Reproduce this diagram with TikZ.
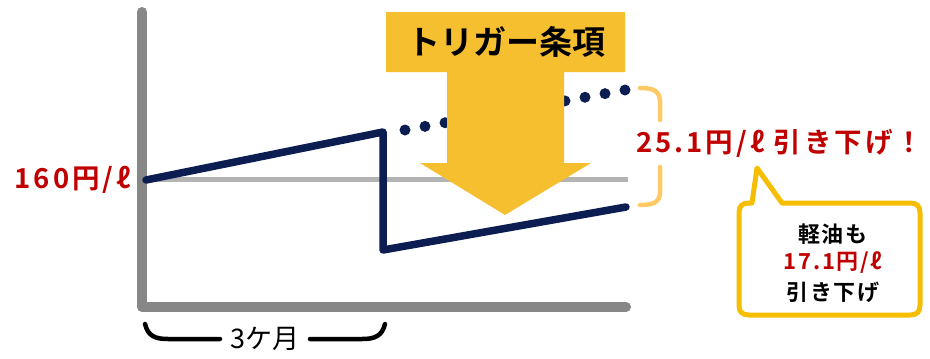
\documentclass[tikz,border=0pt]{standalone}
\usepackage{fontspec}
\usetikzlibrary{calc}
\setmainfont{Noto Sans CJK JP}[BoldFont=* Bold]
\newfontfamily\spacedjp{Noto Sans CJK JP}[BoldFont=* Bold,LetterSpace=11]
\newfontfamily\slightjp{Noto Sans CJK JP}[BoldFont=* Bold,LetterSpace=8]
\definecolor{navy}{HTML}{0B1D51}
\definecolor{axisgray}{HTML}{878787}
\definecolor{basegray}{HTML}{B3B3B3}
\definecolor{gold}{HTML}{F6BF30}
\definecolor{calloutgold}{HTML}{F5BE00}
\definecolor{lightorange}{HTML}{FFC966}
\definecolor{redtxt}{HTML}{C00000}
\tikzset{
  axisline/.style={draw=axisgray,line width=10pt,line cap=round,line join=round},
  baseline/.style={draw=basegray,line width=5pt},
  priceline/.style={draw=navy,line width=7.5pt,line cap=round,line join=round},
  pricedot/.style={fill=navy,draw=none},
  bigarrow/.style={fill=gold,draw=none},
  bracketline/.style={draw=lightorange,line width=4.5pt,line cap=round},
  braceline/.style={draw=black,line width=4.5pt,line cap=round},
  redlabel/.style={text=redtxt,font=\spacedjp\bfseries\fontsize{27.5}{30}\selectfont,inner sep=0pt},
  callout/.style={draw=calloutgold,fill=white,line width=5pt,line join=round},
  callouttext/.style={font=\slightjp\bfseries\fontsize{22}{30}\selectfont,align=center,inner sep=0pt},
}
\begin{document}
\begin{tikzpicture}[x=1pt,y=-1pt]
\useasboundingbox (0,0) rectangle (930,359);
% coordinates
\coordinate (axtop) at (142,12);
\coordinate (axcorner) at (142,307);
\coordinate (axright) at (626,307);
\coordinate (b0) at (142,179);
\coordinate (b1) at (628,179);
\coordinate (p0) at (146,180);
\coordinate (p1) at (383,132);
\coordinate (p2) at (383,250);
\coordinate (p3) at (626,207);
\coordinate (d0) at (405,130);
\coordinate (d1) at (625,90);
% baseline
\draw[baseline] (b0) -- (b1);
% axes
\draw[axisline] (axtop) -- (axcorner) -- (axright);
% price line
\draw[priceline] (p0) -- (p1) -- (p2) -- (p3);
% dotted projection
\foreach \t in {0,1,...,11} {
  \fill[pricedot] ($(d0)!\t/11!(d1)$) circle (5.5pt);
}
% big arrow
\path[bigarrow] (386,12) -- (625,12) -- (625,72) -- (564,72) -- (564,163) -- (591,163)
  -- (505,215) -- (420,163) -- (447,163) -- (447,72) -- (386,72) -- cycle;
\node[font=\bfseries\fontsize{33}{36}\selectfont,inner sep=0pt] (title) at (506,42) {トリガー条項};
% orange bracket
\draw[bracketline] (640,88) .. controls (652,88) and (660,90) .. (660,102) -- (660,120);
\draw[bracketline] (660,167) -- (660,192) .. controls (660,203) and (652,205) .. (640,205);
% labels
\node[redlabel,anchor=east] (start) at (131,180) {160円/ℓ};
\node[redlabel,anchor=west] (drop) at (636,143) {25.1円/ℓ 引き下げ！};
% callout
\draw[callout] (757,168) -- (782,203) -- (910,203)
  .. controls (917,203) and (920,206) .. (920,213) -- (920,305)
  .. controls (920,312) and (917,315) .. (910,315) -- (749,315)
  .. controls (742,315) and (739,312) .. (739,305) -- (739,213)
  .. controls (739,206) and (742,203) .. (749,203) -- (752,203) -- cycle;
\node[callouttext] (l1) at (833,234) {軽油も};
\node[callouttext,text=redtxt] (l2) at (833,263) {17.1円/ℓ};
\node[callouttext] (l3) at (833,292) {引き下げ};
% bottom brace
\node[font=\fontsize{27}{30}\selectfont,inner sep=0pt] (months) at (265,339) {3ケ月};
\draw[braceline] (145,324) .. controls (148,336) and (155,339) .. (168,339) -- (220,339);
\draw[braceline] (310,339) -- (362,339) .. controls (375,339) and (382,336) .. (385,324);
\end{tikzpicture}
\end{document}
